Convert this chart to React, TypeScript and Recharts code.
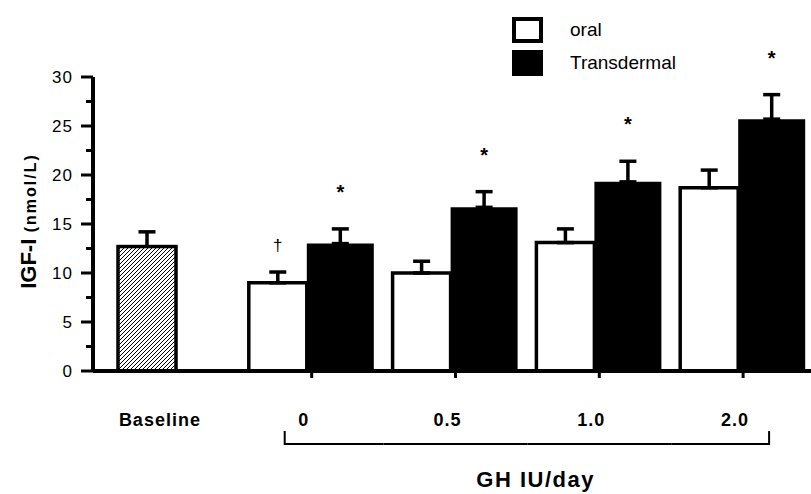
import { Bar, BarChart, ErrorBar, LabelList, Legend, XAxis, YAxis } from "recharts";

const categories = ["Baseline", "0", "0.5", "1.0", "2.0"];
const baselineValues = [12.7, null, null, null, null];
const baselineErrors = [1.5, null, null, null, null];
const oralValues = [null, 9.0, 10.0, 13.1, 18.7];
const oralErrors = [null, 1.1, 1.2, 1.4, 1.8];
const transValues = [null, 13.0, 16.7, 19.3, 25.7];
const transErrors = [null, 1.5, 1.6, 2.1, 2.5];
const oralMarks = ["", "†", "", "", ""];
const transMarks = ["", "*", "*", "*", "*"];
const yTicks = [0, 2.5, 5, 7.5, 10, 12.5, 15, 17.5, 20, 22.5, 25, 27.5, 30];
const legendOrder = ["oral", "trans"];

const font = "'Liberation Sans', Arial, Helvetica, sans-serif";
const BASELINE_SHIFT = 13;

const data = categories.map((name, i) => ({
  name,
  baseline: baselineValues[i],
  baselineErr: baselineErrors[i],
  oral: oralValues[i],
  oralErr: oralErrors[i] == null ? undefined : [0, oralErrors[i]],
  trans: transValues[i],
  transErr: transErrors[i] == null ? undefined : [0, transErrors[i]],
}));

function HatchBar(props: any) {
  const { x, y, width, height, payload } = props;
  if (!height || payload.baseline == null) return null;
  const sx = x + BASELINE_SHIFT;
  const errPx = (height * payload.baselineErr) / payload.baseline;
  const cx = sx + width / 2;
  return (
    <g>
      <defs>
        <pattern id="hatch" patternUnits="userSpaceOnUse" width="4" height="4">
          <path d="M-1,1 l2,-2 M0,4 l4,-4 M3,5 l2,-2" stroke="#000" strokeWidth={1} />
        </pattern>
      </defs>
      <line x1={cx} x2={cx} y1={y} y2={y - errPx} stroke="#000" strokeWidth={3.5} />
      <line x1={cx - 8.5} x2={cx + 8.5} y1={y - errPx} y2={y - errPx} stroke="#000" strokeWidth={3.5} />
      <rect x={sx} y={y} width={width} height={height} fill="url(#hatch)" stroke="#000" strokeWidth={3.5} />
    </g>
  );
}

// the label's value is the category name, so the mark is looked up by category
function makeMark(marks: string[], values: (number | null)[], errors: (number | null)[], gap: number, size: number, bold: boolean) {
  return (props: any) => {
    const box = props.viewBox ?? props;
    const { x, y, width, height } = box;
    const i = categories.indexOf(String(props.value));
    const m = marks[i];
    const v = values[i];
    const e = errors[i];
    if (!m || v == null || e == null) return null;
    const errPx = (height * e) / v;
    return (
      <text
        x={x + width / 2}
        y={y - errPx - gap}
        textAnchor="middle"
        fontFamily={font}
        fontSize={size}
        fontWeight={bold ? "bold" : "normal"}
        fill="#000"
      >
        {m}
      </text>
    );
  };
}

function YTick(props: any) {
  const { x, y, payload } = props;
  const v = payload.value;
  const major = v % 5 === 0;
  return (
    <g>
      <line x1={x - (major ? 12 : 7)} x2={x} y1={y} y2={y} stroke="#000" strokeWidth={3} />
      {major && (
        <text x={x - 20} y={y} dy="0.36em" textAnchor="end" fontFamily={font} fontSize={17} letterSpacing={1} fill="#000">
          {v}
        </text>
      )}
    </g>
  );
}

function XTick(props: any) {
  const { x, y, payload } = props;
  const idx = categories.indexOf(payload.value);
  const half = payload.offset > 0 ? payload.offset : 72;
  const first = 1;
  const last = categories.length - 1;
  const left = idx === first ? x - 27 : x - half;
  const right = idx === last ? x + 26 : x + half;
  return (
    <g>
      {idx > 0 && <line x1={x} x2={x} y1={y} y2={y + 7} stroke="#000" strokeWidth={3} />}
      <text x={x - 8} y={y + 55} textAnchor="middle" fontFamily={font} fontSize={18} fontWeight="bold" letterSpacing={1} fill="#000">
        {payload.value}
      </text>
      {idx >= first && <line x1={left} x2={right} y1={y + 73} y2={y + 73} stroke="#000" strokeWidth={2} />}
      {idx === first && <line x1={left} x2={left} y1={y + 60} y2={y + 74} stroke="#000" strokeWidth={2} />}
      {idx === last && <line x1={right} x2={right} y1={y + 60} y2={y + 74} stroke="#000" strokeWidth={2} />}
    </g>
  );
}

function YLabel(props: any) {
  const vb = props.viewBox;
  const cx = 36;
  const cy = vb.y + vb.height / 2 - 3;
  return (
    <text x={cx} y={cy} textAnchor="middle" transform={`rotate(-90, ${cx}, ${cy})`} fontFamily={font} fontWeight="bold" fill="#000">
      <tspan fontSize={22}>IGF-I</tspan>
      <tspan fontSize={16} letterSpacing={2}> (nmol/L)</tspan>
    </text>
  );
}

function XLabel(props: any) {
  const vb = props.viewBox;
  return (
    <text x={vb.x + vb.width * 0.613} y={vb.y + 116} textAnchor="middle" fontFamily={font} fontSize={22} fontWeight="bold" letterSpacing={1.5} fill="#000">
      GH IU/day
    </text>
  );
}

function LegendContent(props: any) {
  const items = (props.payload ?? [])
    .filter((p: any) => p.type !== "none")
    .sort((a: any, b: any) => legendOrder.indexOf(a.dataKey) - legendOrder.indexOf(b.dataKey));
  return (
    <div style={{ fontFamily: font, fontSize: 19, color: "#000" }}>
      {items.map((p: any) => (
        <div key={p.value} style={{ display: "flex", alignItems: "center", height: 33 }}>
          <span
            style={{
              display: "inline-block",
              width: 31,
              height: 26,
              boxSizing: "border-box",
              border: "4px solid #000",
              background: p.dataKey === "trans" ? "#000" : "#fff",
              marginRight: 27,
            }}
          />
          <span>{p.value}</span>
        </div>
      ))}
    </div>
  );
}

export default function App() {
  return (
    <div style={{ position: "absolute", left: 0, top: 0, width: 811, height: 494, background: "#fff" }}>
      <BarChart
        width={811}
        height={494}
        data={data}
        margin={{ top: 77, right: -4, bottom: 0, left: 0 }}
        barGap={0}
      >
        <XAxis
          dataKey="name"
          interval={0}
          height={123}
          padding={{ left: 3, right: 0 }}
          axisLine={{ stroke: "#000", strokeWidth: 4 }}
          tickLine={false}
          tickSize={0}
          tickMargin={0}
          tick={<XTick />}
          label={{ value: "GH IU/day", content: <XLabel /> }}
        />
        <YAxis
          width={93}
          domain={[0, 30]}
          ticks={yTicks}
          interval={0}
          axisLine={{ stroke: "#000", strokeWidth: 4 }}
          tickLine={false}
          tickSize={0}
          tickMargin={0}
          tick={<YTick />}
          label={{ value: "IGF-I", content: <YLabel /> }}
        />
        <Legend
          layout="vertical"
          align="center"
          verticalAlign="middle"
          wrapperStyle={{ top: 13, left: 512, width: 220, height: 66 }}
          content={<LegendContent />}
        />
        <Bar
          dataKey="baseline"
          name="Baseline"
          stackId="o"
          barSize={58}
          legendType="none"
          shape={<HatchBar />}
          isAnimationActive={false}
        />
        <Bar
          dataKey="oral"
          name="oral"
          stackId="o"
          barSize={58}
          fill="#fff"
          stroke="#000"
          strokeWidth={3.5}
          isAnimationActive={false}
        >
          <ErrorBar dataKey="oralErr" width={8.5} stroke="#000" strokeWidth={3.5} direction="y" />
          <LabelList dataKey="name" content={makeMark(oralMarks, oralValues, oralErrors, 21, 17, false)} />
        </Bar>
        <Bar dataKey="trans" name="Transdermal" barSize={67} fill="#000" isAnimationActive={false}>
          <ErrorBar dataKey="transErr" width={8.5} stroke="#000" strokeWidth={3.5} direction="y" />
          <LabelList dataKey="name" content={makeMark(transMarks, transValues, transErrors, 30, 20, true)} />
        </Bar>
      </BarChart>
    </div>
  );
}
